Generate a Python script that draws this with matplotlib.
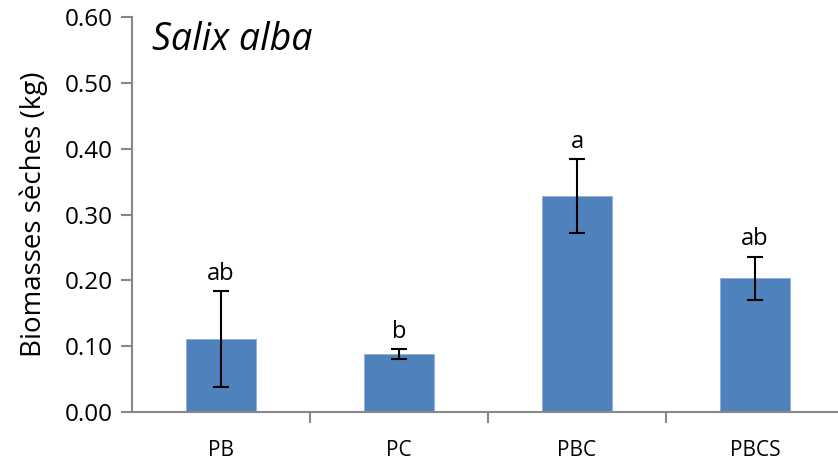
import numpy as np
import matplotlib
matplotlib.use("Agg")
import matplotlib.pyplot as plt

# data
categories = ['PB', 'PC', 'PBC', 'PBCS']
biomass = [0.111, 0.088, 0.328, 0.203]
errors = [0.0725, 0.0076, 0.056, 0.033]
letters = ['ab', 'b', 'a', 'ab']

plt.rcParams['font.family'] = ['Open Sans', 'DejaVu Sans']

fig = plt.figure(figsize=(8.38, 4.62), dpi=100)
ax = fig.add_axes([132 / 838, (462 - 412.3) / 462, (844 - 132) / 838, (412.3 - 16.7) / 462])

x = np.arange(len(categories))
ax.bar(x, biomass, width=0.395, color='#4F81BD', edgecolor='#8EAEDA', linewidth=0.6, zorder=2)
ax.errorbar(x, biomass, yerr=errors, fmt='none', ecolor='black', elinewidth=1.5,
            capsize=6, capthick=1.5, zorder=3)

for xi, m, e, lab in zip(x, biomass, errors, letters):
    ax.annotate(lab, (xi, m + e), xytext=(0, 4), textcoords='offset points',
                ha='center', va='bottom', fontsize=17)

ax.set_xlim(-0.5, len(categories) - 0.5)
ax.set_ylim(0, 0.6)
ax.set_yticks(np.arange(0, 0.61, 0.1))
ax.set_yticklabels(['%.2f' % v for v in np.arange(0, 0.61, 0.1)], fontsize=17.5)

# x ticks at the category boundaries, labels centred below bars
ax.set_xticks(np.arange(0.5, len(categories) - 0.5, 1))
ax.set_xticklabels([])
ax.set_xticks(x, minor=True)
ax.set_xticklabels(categories, minor=True, fontsize=15)
ax.tick_params(axis='x', which='minor', length=0, pad=20)
ax.tick_params(axis='x', which='major', length=8, width=1.5, color='#888888', direction='out')
ax.tick_params(axis='y', length=8, width=1.5, color='#888888', direction='out', pad=6)

for side in ['top', 'right']:
    ax.spines[side].set_visible(False)
for side in ['left', 'bottom']:
    ax.spines[side].set_color('#888888')
    ax.spines[side].set_linewidth(1.5)

ax.set_ylabel('Biomasses sèches (kg)', fontsize=20, labelpad=12)
ax.text(0.028, 0.94, 'Salix alba', transform=ax.transAxes, fontsize=27,
        style='italic', ha='left', va='center')

fig.savefig('out.png', dpi=100)
